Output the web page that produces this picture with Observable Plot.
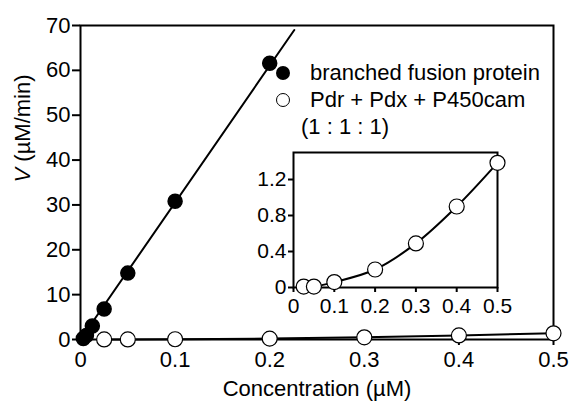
<!DOCTYPE html>
<html>
<head>
<meta charset="utf-8">
<script src="https://cdn.jsdelivr.net/npm/d3@7"></script>
<script src="https://cdn.jsdelivr.net/npm/@observablehq/plot@0.6"></script>
<style>
  body { margin: 0; background: #fff; }
  #wrap { position: relative; width: 571px; height: 408px; font-family: "Liberation Sans", Arial, sans-serif; }
  #inset { position: absolute; left: 240px; top: 140px; }
  .leg { position: absolute; font-size: 22px; color: #000; white-space: nowrap; line-height: 1; }
  .ldot { position: absolute; width: 14px; height: 14px; border-radius: 50%; box-sizing: border-box; }
</style>
</head>
<body>
<div id="wrap"></div>
<script>
// ---- data ----
const fusionX = [0.003, 0.00625, 0.0125, 0.025, 0.05, 0.1, 0.2];
const fusionY = [0.2, 0.9, 3.0, 6.8, 14.8, 30.8, 61.6];
const fitX = [0, 0.226];
const fitY = [0, 69];
const mixX = [0.025, 0.05, 0.1, 0.2, 0.3, 0.4, 0.5];
const mixY = [0.01, 0.01, 0.06, 0.2, 0.49, 0.9, 1.385];
const mainXTicks = [0, 0.1, 0.2, 0.3, 0.4, 0.5];
const mainYTicks = [0, 10, 20, 30, 40, 50, 60, 70];
const insetXTicks = [0, 0.1, 0.2, 0.3, 0.4, 0.5];
const insetYTicks = [0, 0.4, 0.8, 1.2];
const legendLabels = ["branched fusion protein", "Pdr + Pdx + P450cam", "(1 : 1 : 1)"];
const xLabel = "Concentration (µM)";
const yLabel = "V (µM/min)";

const fusion = fusionX.map((x, i) => ({x, y: fusionY[i]}));
const fit = fitX.map((x, i) => ({x, y: fitY[i]}));
const mix = mixX.map((x, i) => ({x, y: mixY[i]}));
const fmt = d => String(d);

const font = "'Liberation Sans', Arial, sans-serif";

const main = Plot.plot({
  width: 571, height: 408,
  marginLeft: 80, marginTop: 25, marginRight: 18, marginBottom: 69,
  style: {fontFamily: font, fontSize: "22px", color: "#000", background: "transparent", overflow: "visible"},
  x: {domain: [0, 0.5]},
  y: {domain: [0, 70]},
  marks: [
    Plot.frame({stroke: "#000", strokeWidth: 2}),
    Plot.axisX({ticks: mainXTicks, tickFormat: fmt, tickSize: 6, tickPadding: 6, strokeWidth: 2, label: null, fontSize: 22}),
    Plot.axisY({ticks: mainYTicks, tickFormat: fmt, tickSize: 8, tickPadding: 2, strokeWidth: 2, label: null, fontSize: 22}),
    Plot.line(fit, {x: "x", y: "y", stroke: "#000", strokeWidth: 2}),
    Plot.line(mix, {x: "x", y: "y", stroke: "#000", strokeWidth: 2}),
    Plot.dot(mix, {x: "x", y: "y", r: 7.5, fill: "#fff", stroke: "#000", strokeWidth: 1.2}),
    Plot.dot(fusion, {x: "x", y: "y", r: 7, fill: "#000", stroke: "#000"}),
    Plot.text([xLabel], {text: d => d, frameAnchor: "bottom", dy: 56, fontSize: 22, fill: "#000"}),
    Plot.text([yLabel], {text: d => d, frameAnchor: "left", dx: -58, rotate: -90, fontSize: 22, fill: "#000"})
  ]
});

const inset = Plot.plot({
  width: 280, height: 185,
  marginLeft: 53, marginTop: 12, marginRight: 23, marginBottom: 38,
  style: {fontFamily: font, fontSize: "21px", color: "#000", background: "transparent", overflow: "visible"},
  x: {domain: [0, 0.5]},
  y: {domain: [0, 1.5]},
  marks: [
    Plot.frame({stroke: "#000", strokeWidth: 2}),
    Plot.axisX({ticks: insetXTicks, tickFormat: fmt, tickSize: 5, tickPadding: 6, strokeWidth: 2, label: null, fontSize: 21}),
    Plot.axisY({ticks: insetYTicks, tickFormat: fmt, tickSize: 5, tickPadding: 2, strokeWidth: 2, label: null, fontSize: 21}),
    Plot.line(mix, {x: "x", y: "y", curve: "catmull-rom", stroke: "#000", strokeWidth: 2}),
    Plot.dot(mix, {x: "x", y: "y", r: 7.5, fill: "#fff", stroke: "#000", strokeWidth: 1.2})
  ]
});
inset.id = "inset";

const wrap = document.getElementById("wrap");
wrap.appendChild(main);
wrap.appendChild(inset);

// italic V in the y label
d3.select(main).selectAll("text").each(function() {
  if (this.textContent === yLabel) {
    const t = d3.select(this);
    const tgt = t.select("tspan").empty() ? t : t.select("tspan");
    tgt.text(null);
    tgt.append("tspan").attr("font-style", "italic").text("V");
    tgt.append("tspan").text(yLabel.slice(1));
  }
});

// legend
const legend = [
  {label: legendLabels[0], filled: true, dotY: 73, textX: 310},
  {label: legendLabels[1], filled: false, dotY: 100, textX: 310},
  {label: legendLabels[2], filled: null, dotY: 127, textX: 301}
];
legend.forEach(l => {
  if (l.filled !== null) {
    const d = document.createElement("div");
    d.className = "ldot";
    d.style.left = (283 - 7) + "px";
    d.style.top = (l.dotY - 7) + "px";
    d.style.background = l.filled ? "#000" : "#fff";
    d.style.border = l.filled ? "none" : "1.2px solid #000";
    wrap.appendChild(d);
  }
  const s = document.createElement("div");
  s.className = "leg";
  s.textContent = l.label;
  s.style.left = l.textX + "px";
  s.style.top = (l.dotY - 11) + "px";
  wrap.appendChild(s);
});
</script>
</body>
</html>
